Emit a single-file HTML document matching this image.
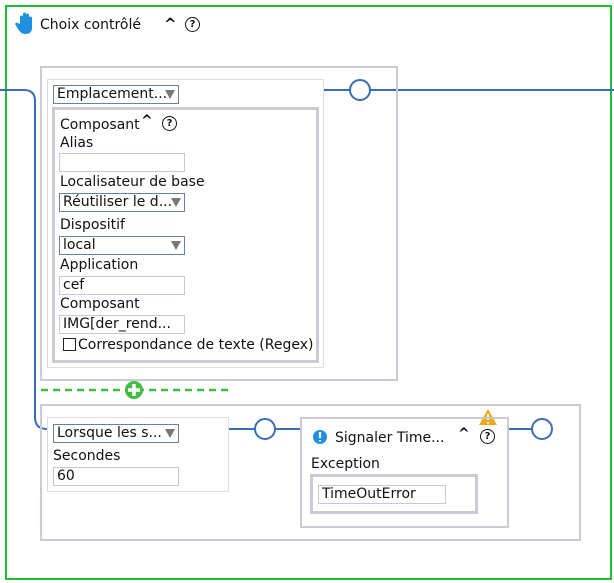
<!DOCTYPE html>
<html><head><meta charset="utf-8"><style>
body{margin:0;width:614px;height:583px;position:relative;background:#fff;font-family:"DejaVu Sans","Liberation Sans",sans-serif;font-size:14px;color:#111;overflow:hidden}
.a{position:absolute;box-sizing:border-box}
.t{position:absolute;white-space:nowrap;line-height:18px}
.inp{position:absolute;box-sizing:border-box;border:1px solid #c5cbd6;background:#fff;padding-left:3px;line-height:17px;font-size:14px;overflow:hidden;white-space:nowrap}
.sel{position:absolute;box-sizing:border-box;border:1px solid #6e7f99;background:#fff;padding-left:3px;line-height:17px;font-size:14px;white-space:nowrap;overflow:hidden}
.sel:after{content:"";position:absolute;right:3px;top:4px;border-left:5px solid transparent;border-right:5px solid transparent;border-top:9px solid #777}
.q{position:absolute;width:13px;height:13px;border:1.5px solid #111;border-radius:50%;font-size:10px;font-weight:bold;text-align:center;line-height:13px;box-sizing:content-box}
</style></head><body>
<div class="a" style="left:5px;top:5px;width:607px;height:575px;border:2px solid #22bb33"></div>
<svg class="a" style="left:0;top:0" width="614" height="583">
<path d="M0 90 H24 Q35 90 35 101 V417 Q35 429 47 429" fill="none" stroke="#3a6db5" stroke-width="2"/>
<path d="M323 90 H350 M370 90 H614 M228 429 H255 M275 429 H300 M508 429 H532" stroke="#3a6db5" stroke-width="2"/>
<circle cx="360" cy="90" r="10" fill="#fff" stroke="#3a6db5" stroke-width="2"/>
<circle cx="265" cy="429" r="10" fill="#fff" stroke="#3a6db5" stroke-width="2"/>
<circle cx="542" cy="429" r="10" fill="#fff" stroke="#3a6db5" stroke-width="2"/>
<path d="M41 390 H228" stroke="#44bb44" stroke-width="2.5" stroke-dasharray="7,5"/>
<circle cx="134" cy="390" r="9" fill="#44bb44"/>
<path d="M134 384 V396 M128 390 H140" stroke="#fff" stroke-width="3.5"/>
<path d="M488 409 L497 425 H479 Z" fill="#f0a81c"/>
<path d="M488 414 V420 M488 422 V423.5" stroke="#fff" stroke-width="2"/>
<circle cx="320" cy="437" r="7" fill="#1e90e0"/>
<path d="M320 432 V438 M320 440 V441.5" stroke="#fff" stroke-width="2.2"/>
<path d="M20 24 V17 a1.5 1.5 0 0 1 3 0 V14 a1.5 1.5 0 0 1 3 0 V15 a1.5 1.5 0 0 1 3 0 V18 a1.5 1.5 0 0 1 3 0 V28 Q32 34 25 34 Q21 34 18 29 L15 24 Q16 22 18 23 Z" fill="#1e90e0"/>
</svg>
<div class="t" style="left:40px;top:16px;font-size:14px">Choix contrôlé</div>
<div class="t" style="left:164px;top:15px;font-size:15px;font-weight:bold">^</div>
<div class="q" style="left:185px;top:17px">?</div>

<div class="a" style="left:40px;top:66px;width:358px;height:315px;border:2px solid #cbcbd3"></div>
<div class="a" style="left:47px;top:79px;width:277px;height:289px;border:1px solid #dcdce2"></div>
<div class="sel" style="left:53px;top:85px;width:126px;height:19px">Emplacement...</div>
<div class="a" style="left:52px;top:107px;width:267px;height:256px;border:3px solid #cbcbd3"></div>
<div class="t" style="left:60px;top:116px">Composant</div>
<div class="t" style="left:141px;top:112px;font-size:14px;font-weight:bold">^</div>
<div class="q" style="left:162px;top:116px">?</div>
<div class="t" style="left:60px;top:134px">Alias</div>
<div class="inp" style="left:59px;top:153px;width:126px;height:19px"></div>
<div class="t" style="left:60px;top:173px">Localisateur de base</div>
<div class="sel" style="left:59px;top:193px;width:126px;height:19px">Réutiliser le d...</div>
<div class="t" style="left:60px;top:216px">Dispositif</div>
<div class="sel" style="left:59px;top:236px;width:126px;height:19px">local</div>
<div class="t" style="left:60px;top:256px">Application</div>
<div class="inp" style="left:59px;top:276px;width:126px;height:19px">cef</div>
<div class="t" style="left:60px;top:295px">Composant</div>
<div class="inp" style="left:59px;top:315px;width:126px;height:19px">IMG[der_rend...</div>
<div class="a" style="left:63px;top:338px;width:13px;height:13px;border:1.5px solid #222"></div>
<div class="t" style="left:78px;top:336px">Correspondance de texte (Regex)</div>

<div class="a" style="left:40px;top:404px;width:541px;height:137px;border:2px solid #cbcbd3"></div>
<div class="a" style="left:47px;top:417px;width:182px;height:75px;border:1px solid #dcdce2"></div>
<div class="sel" style="left:53px;top:424px;width:126px;height:19px">Lorsque les s...</div>
<div class="t" style="left:53px;top:447px">Secondes</div>
<div class="inp" style="left:53px;top:467px;width:126px;height:19px">60</div>
<div class="a" style="left:300px;top:417px;width:209px;height:111px;border:2px solid #cbcbd3"></div>
<div class="t" style="left:335px;top:429px">Signaler Time...</div>
<div class="t" style="left:458px;top:425px;font-size:14px;font-weight:bold">^</div>
<div class="q" style="left:480px;top:429px">?</div>
<div class="t" style="left:311px;top:455px">Exception</div>
<div class="a" style="left:310px;top:474px;width:168px;height:40px;border:3px solid #cbcbd3"></div>
<div class="inp" style="left:318px;top:485px;width:128px;height:19px">TimeOutError</div>
</body></html>
